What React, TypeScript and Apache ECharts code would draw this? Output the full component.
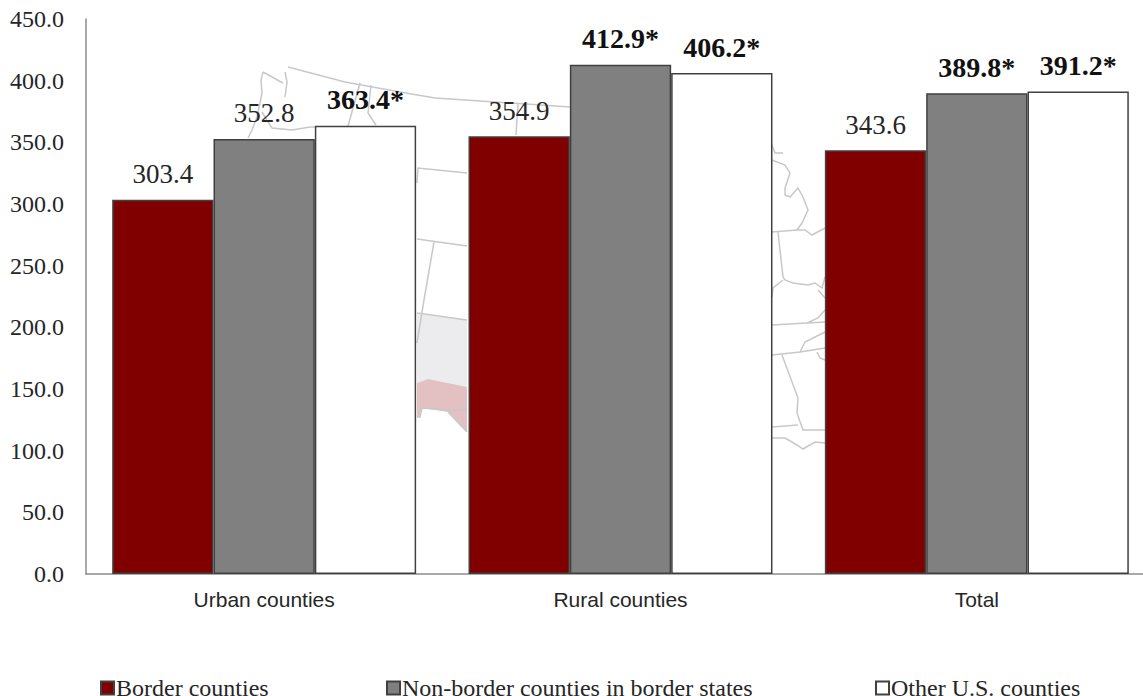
import React, { useEffect, useRef } from "react";
import * as echarts from "echarts";

const categories = ["Urban counties", "Rural counties", "Total"];
const seriesNames = ["Border counties", "Non-border counties in border states", "Other U.S. counties"];
const borderValues = [303.4, 354.9, 343.6];
const nonBorderValues = [352.8, 412.9, 389.8];
const otherValues = [363.4, 406.2, 391.2];
const borderSignificant = [false, false, false];
const nonBorderSignificant = [false, true, true];
const otherSignificant = [true, true, true];
const seriesColors = ["#800000", "#808080", "#ffffff"];
const legendLefts = [100, 386, 875];

// Faint background map of the U.S., a decoration behind the bars.
const mapFills: [string, number[][]][] = [
  ["#ececee", [[417, 314], [467, 320], [467, 388], [428, 379], [417, 383]]],
  ["#e3c1c2", [[417, 383], [428, 379], [467, 387], [467, 432], [448, 412], [422, 408], [420, 417], [417, 417]]],
];
const mapLines: number[][][] = [
  [[263, 72], [261, 80], [262, 93], [260, 103], [257, 117], [252, 130], [248, 138]],
  [[263, 72], [283, 83]],
  [[285, 72], [287, 82], [285, 97]],
  [[288, 67], [345, 82], [400, 92], [435, 98], [480, 101], [570, 107]],
  [[262, 112], [268, 122], [272, 128], [292, 130], [310, 127], [316, 127]],
  [[360, 83], [348, 126]],
  [[371, 85], [368, 113], [376, 125]],
  [[518, 104], [516, 135]],
  [[417, 183], [418, 168], [467, 173]],
  [[417, 239], [467, 246]],
  [[434, 242], [424, 300], [417, 343]],
  [[417, 313], [467, 320]],
  [[417, 417], [420, 417], [422, 408], [447, 410], [467, 410]],
  [[448, 412], [467, 432]],
  [[772, 145], [775, 153], [783, 153]],
  [[772, 160], [785, 165], [790, 173], [785, 188], [785, 195], [790, 197], [798, 188], [803, 197], [808, 210], [802, 223], [797, 230]],
  [[772, 232], [797, 230], [805, 230], [812, 235], [825, 228]],
  [[778, 232], [783, 277], [785, 280], [793, 283], [808, 285], [815, 283], [822, 288], [825, 277]],
  [[783, 280], [773, 288], [772, 297]],
  [[818, 290], [825, 298]],
  [[772, 325], [807, 323], [825, 322]],
  [[807, 323], [818, 318], [825, 310]],
  [[772, 355], [800, 352], [825, 348]],
  [[800, 352], [805, 342], [825, 332]],
  [[817, 352], [820, 358], [825, 360]],
  [[782, 355], [798, 398], [797, 413], [803, 430], [825, 430]],
  [[772, 427], [798, 425]],
  [[772, 438], [785, 438], [797, 445], [803, 449], [815, 442], [825, 443]],
];

const SERIF = "'Liberation Serif', serif";
const SANS = "'Liberation Sans', sans-serif";

function makeSeries(name: string, values: number[], significant: boolean[], color: string) {
  return {
    name,
    type: "bar",
    barGap: 0,
    barCategoryGap: "14.7%",
    itemStyle: { color, borderColor: "#404040", borderWidth: 1.5 },
    label: {
      show: true,
      position: "top",
      distance: 12,
      fontFamily: SERIF,
      fontSize: 27,
      color: "#262626",
      formatter: (p: any) => p.value.toFixed(1) + (significant[p.dataIndex] ? "*" : ""),
    },
    data: values.map((value, i) => ({
      value,
      label: significant[i] ? { fontWeight: "bold", fontSize: 28, color: "#111111" } : {},
    })),
  };
}

export default function App() {
  const ref = useRef<HTMLDivElement>(null);
  useEffect(() => {
    const chart = echarts.init(ref.current!, null, { renderer: "svg" });
    chart.setOption({
      animation: false,
      backgroundColor: "#ffffff",
      grid: { left: 86, top: 19, width: 1069, height: 555, containLabel: false },
      legend: seriesNames.map((name, i) => ({
        data: [name],
        left: legendLefts[i],
        top: 676,
        padding: 0,
        icon: "rect",
        itemWidth: 13,
        itemHeight: 13,
        selectedMode: false,
        textStyle: {
          fontFamily: SERIF,
          fontSize: 24,
          lineHeight: 20,
          color: "#262626",
          padding: [0, 0, 0, -3],
        },
      })),
      xAxis: {
        type: "category",
        data: categories,
        axisLine: { lineStyle: { color: "#8c8c8c", width: 1.5 } },
        axisTick: { show: false },
        axisLabel: { fontFamily: SANS, fontSize: 21, color: "#262626", margin: 15 },
      },
      yAxis: {
        type: "value",
        min: 0,
        max: 450,
        interval: 50,
        splitLine: { show: false },
        axisLine: { show: true, lineStyle: { color: "#8c8c8c", width: 1.5 } },
        axisTick: { show: false },
        axisLabel: {
          fontFamily: SERIF,
          fontSize: 24,
          color: "#262626",
          margin: 22,
          formatter: (v: number) => v.toFixed(1),
        },
      },
      graphic: [
        ...mapFills.map(([fill, points]) => ({
          type: "polygon",
          silent: true,
          shape: { points },
          style: { fill },
        })),
        ...mapLines.map((points) => ({
          type: "polyline",
          silent: true,
          shape: { points },
          style: { stroke: "#c8c8c8", lineWidth: 1.5, fill: "none" },
        })),
      ],
      series: [
        makeSeries(seriesNames[0], borderValues, borderSignificant, seriesColors[0]),
        makeSeries(seriesNames[1], nonBorderValues, nonBorderSignificant, seriesColors[1]),
        makeSeries(seriesNames[2], otherValues, otherSignificant, seriesColors[2]),
      ],
    });
    return () => chart.dispose();
  }, []);
  return (
    <div style={{ position: "absolute", left: 0, top: 0, width: 1143, height: 696, overflow: "hidden" }}>
      <div ref={ref} style={{ width: 1200, height: 696 }} />
    </div>
  );
}
